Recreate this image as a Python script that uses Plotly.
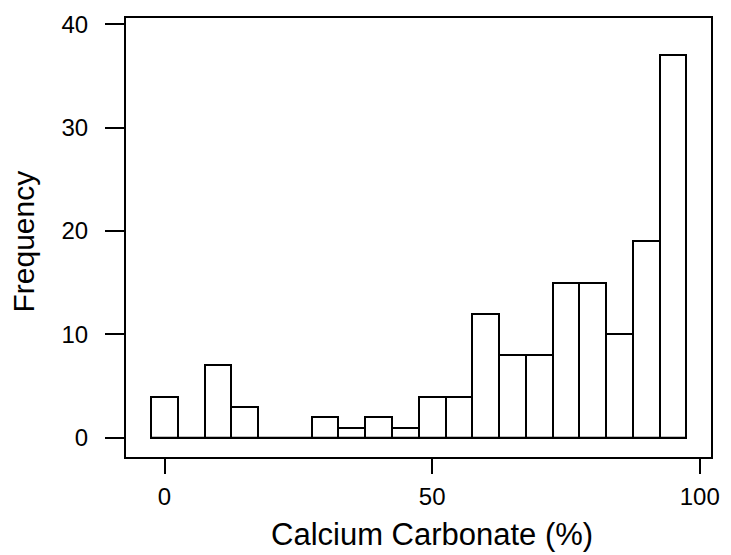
import plotly.graph_objects as go

bin_centers = [0, 5, 10, 15, 20, 25, 30, 35, 40, 45, 50, 55, 60, 65, 70, 75, 80, 85, 90, 95]
frequency = [4, 0, 7, 3, 0, 0, 2, 1, 2, 1, 4, 4, 12, 8, 8, 15, 15, 10, 19, 37]
x_ticks = [0, 50, 100]
y_ticks = [0, 10, 20, 30, 40]
bin_width = 5

FONT = "Liberation Sans, Arial, sans-serif"

fig = go.Figure()
fig.add_trace(go.Bar(
    x=bin_centers, y=frequency, width=[bin_width] * len(bin_centers),
    marker=dict(color="white", line=dict(color="black", width=2)),
    showlegend=False, hoverinfo="x+y",
))
# baseline under zero-height bins (as drawn by the histogram)
fig.add_trace(go.Scatter(
    x=[bin_centers[0] - bin_width / 2, bin_centers[-1] + bin_width / 2], y=[0, 0],
    mode="lines", line=dict(color="black", width=2), showlegend=False, hoverinfo="skip",
))

fig.update_layout(
    width=731, height=555,
    margin=dict(l=126, r=11, t=13, b=98),
    paper_bgcolor="white", plot_bgcolor="white",
    font=dict(family=FONT, color="black"),
    bargap=0,
    xaxis=dict(
        range=[-7.2, 102.1], tickvals=x_ticks, ticktext=[str(v) for v in x_ticks],
        showgrid=False, zeroline=False,
        showline=True, mirror=True, linecolor="black", linewidth=2,
        ticks="outside", ticklen=15, tickwidth=2, tickcolor="black",
        tickfont=dict(size=24, family=FONT),
        ticklabelstandoff=2,
    ),
    yaxis=dict(
        range=[-1.85, 40.6], tickvals=y_ticks, ticktext=[str(v) for v in y_ticks],
        showgrid=False, zeroline=False,
        showline=True, mirror=True, linecolor="black", linewidth=2,
        ticks="outside", ticklen=19, tickwidth=2, tickcolor="black",
        tickfont=dict(size=24, family=FONT),
        ticklabelstandoff=12,
    ),
    annotations=[
        dict(text="Calcium Carbonate (%)", x=50, xref="x", y=0, yref="paper",
             yanchor="middle", yshift=-77, showarrow=False,
             font=dict(size=31, family=FONT)),
        dict(text="Frequency", x=0, xref="paper", y=0.5, yref="paper",
             xanchor="center", xshift=-103, yshift=-4, textangle=-90, showarrow=False,
             font=dict(size=30, family=FONT)),
    ],
)

fig.write_html("out.html")
